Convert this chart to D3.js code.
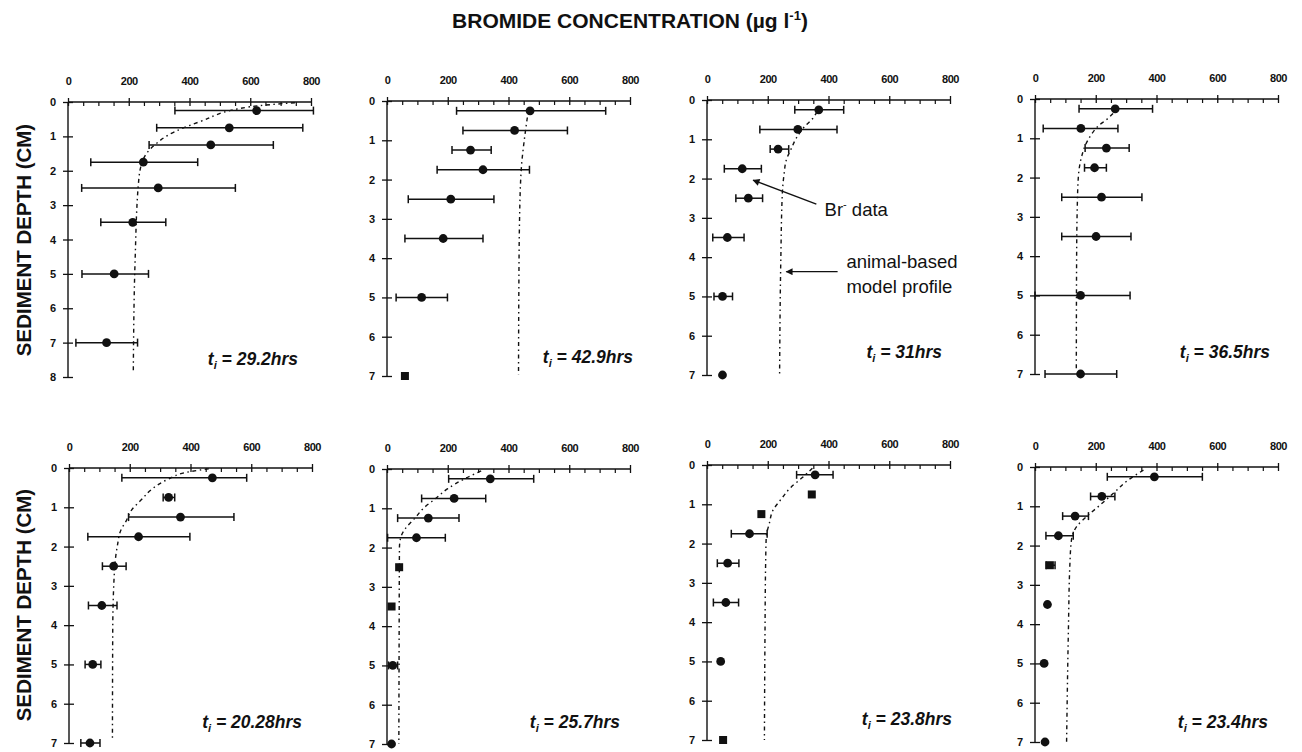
<!DOCTYPE html>
<html><head><meta charset="utf-8">
<script src="https://cdn.jsdelivr.net/npm/d3@7"></script>
<style>
html,body{margin:0;padding:0;background:#fff;}
svg{display:block;font-family:"Liberation Sans",Arial,Helvetica,sans-serif;}
</style></head>
<body><svg id="c" width="1302" height="752"></svg>
<script>
// ---------------- DATA ----------------
const depths = [0.25, 0.75, 1.25, 1.75, 2.5, 3.5, 5, 7];
const xTicks = [0, 200, 400, 600, 800];
const xMinorTicks = [50, 100, 150, 250, 300, 350, 450, 500, 550, 650, 700, 750];
const yMaxByPanel = [8, 7, 7, 7, 7, 7, 7, 7];
const incubationTimes = ["29.2", "42.9", "31", "36.5", "20.28", "25.7", "23.8", "23.4"];

const conc1 = [621, 531, 470, 248, 297, 213, 152, 127];
const lo1   = [352, 292, 267, 75, 45, 108, 46, 26];
const hi1   = [808, 773, 676, 427, 551, 322, 265, 229];
const conc2 = [471, 420, 275, 316, 210, 185, 114, 59];
const lo2   = [229, 250, 214, 165, 70, 59, 30, null];
const hi2   = [720, 594, 343, 469, 352, 316, 199, null];
const conc3 = [368, 299, 234, 116, 136, 67, 51, 51];
const lo3   = [289, 174, 208, 57, 95, 19, 23, null];
const hi3   = [450, 428, 269, 179, 183, 122, 84, null];
const conc4 = [264, 151, 235, 196, 219, 201, 150, 150];
const lo4   = [145, 27, 165, 163, 88, 88, 0, 33];
const hi4   = [387, 273, 310, 235, 352, 316, 313, 269];
const conc5 = [472, 328, 367, 229, 147, 108, 78, 69];
const lo5   = [174, 310, 196, 62, 110, 64, 53, 39];
const hi5   = [585, 348, 543, 398, 188, 158, 105, 102];
const conc6 = [340, 221, 136, 97, 40, 15, 19, 15];
const lo6   = [203, 114, 35, 2, null, null, 5, null];
const hi6   = [483, 325, 237, 192, null, null, 35, null];
const conc7 = [356, 345, 179, 140, 68, 62, 45, 53];
const lo7   = [295, null, null, 80, 34, 21, null, null];
const hi7   = [415, null, null, 198, 105, 104, null, null];
const conc8 = [393, 220, 132, 77, 49, 41, 30, 33];
const lo8   = [238, 183, 91, 36, 36, null, null, null];
const hi8   = [551, 263, 176, 126, 66, null, null, null];

// points drawn as squares (index into depths)
const squarePoints = [[], [7], [], [], [], [4, 5], [1, 2, 7], [4]];

// animal-based model profiles: [depth, concentration]
const model1 = [[0.02,747],[0.14,599],[0.57,435],[0.96,330],[1.2,292],[1.49,259],[1.78,243],[2.36,232],[4.59,221],[7.84,215]];
const model2 = [[0.42,462],[0.53,460],[0.99,452],[1.74,442],[3.18,436],[4.88,434],[6.97,433]];
const model3 = [[0.3,362],[0.47,348],[0.68,321],[0.97,294],[1.23,278],[1.53,261],[1.87,254],[2.38,248],[4.07,243],[7.0,239]];
const model4 = [[0.37,257],[0.52,236],[0.69,208],[0.9,186],[1.19,165],[1.45,154],[1.95,143],[2.8,139],[4.07,137],[6.94,136]];
const model5 = [[0.02,460],[0.09,400],[0.3,323],[0.55,271],[0.81,238],[1.06,207],[1.35,188],[1.56,172],[1.99,159],[2.58,150],[4.11,144],[6.94,143]];
const model6 = [[0.05,310],[0.25,255],[0.5,200],[0.75,160],[1.0,120],[1.25,92],[1.5,62],[1.75,45],[2.0,41],[4.1,40],[7.0,39]];
const model7 = [[0.08,347],[0.32,314],[0.57,276],[0.87,244],[1.17,216],[1.46,206],[1.84,195],[2.52,193],[4.21,191],[7.0,189]];
const model8 = [[0.08,357],[0.33,307],[0.67,258],[0.97,214],[1.22,176],[1.52,137],[1.86,120],[2.45,115],[4.14,110],[7.0,104]];

const concs = [conc1, conc2, conc3, conc4, conc5, conc6, conc7, conc8];
const lows  = [lo1, lo2, lo3, lo4, lo5, lo6, lo7, lo8];
const highs = [hi1, hi2, hi3, hi4, hi5, hi6, hi7, hi8];
const models = [model1, model2, model3, model4, model5, model6, model7, model8];

// ---------------- LAYOUT ----------------
const panelOrigins = [[68,102],[387,101],[707,100],[1035,99],[69,468],[387,469],[707,465],[1035,467]];
const panelW = 243, panelH = 275;
const labelEnd = [230, 246, 235, 235, 233, 233, 245, 233];
const labelBaseline = [263, 262, 258, 259, 260, 259, 260, 261];

const svg = d3.select("#c");
const ink = "#111";

svg.append("text").attr("x", 630).attr("y", 28).attr("text-anchor", "middle")
  .attr("font-size", 21).attr("font-weight", "bold").attr("fill", ink)
  .text("BROMIDE CONCENTRATION (µg l")
  .append("tspan").attr("font-size", 13).attr("dy", -8).text("-1")
  .select(function(){ return this.parentNode; })
  .append("tspan").attr("dy", 8).attr("font-size", 21).text(")");

[[240],[605]].forEach(([cy]) => {
  svg.append("text").attr("transform", `translate(31,${cy}) rotate(-90)`)
    .attr("text-anchor", "middle").attr("font-size", 20.5).attr("font-weight", "bold")
    .attr("fill", ink).text("SEDIMENT DEPTH (CM)");
});

const line = d3.line().curve(d3.curveMonotoneY);

concs.forEach((conc, p) => {
  const [ox, oy] = panelOrigins[p];
  const yMax = yMaxByPanel[p];
  const x = d3.scaleLinear().domain([0, 800]).range([0, panelW]);
  const y = d3.scaleLinear().domain([0, yMax]).range([0, panelH]);
  const g = svg.append("g").attr("transform", `translate(${ox},${oy})`);

  // x axis (top)
  const xa = g.append("g").call(d3.axisTop(x).tickValues(xTicks).tickSize(4).tickPadding(13));
  xa.select(".domain").attr("stroke", ink).attr("stroke-width", 1.4).attr("d", `M0,0H${panelW}`);
  xa.selectAll(".tick line").attr("y1", -4).attr("y2", 4).attr("stroke", ink).attr("stroke-width", 1.3);
  xa.selectAll(".tick text").attr("font-size", 11).attr("font-weight", "bold")
    .attr("font-family", "'Liberation Sans',Arial,sans-serif").attr("fill", ink).attr("letter-spacing", -0.4);
  const xm = g.append("g").call(d3.axisTop(x).tickValues(xMinorTicks).tickSize(0).tickFormat(""));
  xm.select(".domain").remove();
  xm.selectAll(".tick line").attr("y1", 0).attr("y2", 4).attr("stroke", ink).attr("stroke-width", 1.2);

  // y axis (left)
  const ya = g.append("g").call(d3.axisLeft(y).tickValues(d3.range(0, yMax + 1)).tickSize(4).tickPadding(8).tickFormat(d3.format("d")));
  ya.select(".domain").attr("stroke", ink).attr("stroke-width", 1.4).attr("d", `M0,0V${panelH}`);
  ya.selectAll(".tick line").attr("x1", -5).attr("x2", 5).attr("stroke", ink).attr("stroke-width", 1.3);
  ya.selectAll(".tick text").attr("font-size", 11).attr("font-weight", "bold")
    .attr("font-family", "'Liberation Sans',Arial,sans-serif").attr("fill", ink);

  // model profile
  g.append("path").attr("d", line(models[p].map(d => [x(d[1]), y(d[0])])))
    .attr("fill", "none").attr("stroke", ink).attr("stroke-width", 1.4)
    .attr("stroke-dasharray", "4,3.5,1.5,3.5");

  // error bars
  const pts = depths.map((d, i) => ({d, c: conc[i], lo: lows[p][i], hi: highs[p][i], sq: squarePoints[p].includes(i)}));
  const eb = g.append("g").attr("stroke", ink).attr("stroke-width", 1.5);
  pts.filter(q => q.lo != null).forEach(q => {
    eb.append("line").attr("x1", x(q.lo)).attr("x2", x(q.hi)).attr("y1", y(q.d)).attr("y2", y(q.d));
    eb.append("line").attr("x1", x(q.lo)).attr("x2", x(q.lo)).attr("y1", y(q.d) - 4).attr("y2", y(q.d) + 4);
    eb.append("line").attr("x1", x(q.hi)).attr("x2", x(q.hi)).attr("y1", y(q.d) - 4).attr("y2", y(q.d) + 4);
  });
  // markers
  g.selectAll("circle.pt").data(pts.filter(q => !q.sq)).join("circle").attr("class", "pt")
    .attr("cx", q => x(q.c)).attr("cy", q => y(q.d)).attr("r", 4.4).attr("fill", ink);
  g.selectAll("rect.pt").data(pts.filter(q => q.sq)).join("rect").attr("class", "pt")
    .attr("x", q => x(q.c) - 4).attr("y", q => y(q.d) - 4).attr("width", 8).attr("height", 8).attr("fill", ink);

  // label t_i
  const t = g.append("text").attr("x", labelEnd[p]).attr("y", labelBaseline[p]).attr("text-anchor", "end")
    .attr("font-size", 17.5).attr("font-weight", "bold").attr("font-style", "italic").attr("fill", ink);
  t.append("tspan").text("t");
  t.append("tspan").attr("font-size", 11).attr("dy", 4).text("i");
  t.append("tspan").attr("dy", -4).text(" = " + incubationTimes[p] + "hrs");

  // annotations in panel 3
  if (p === 2) {
    const defs = svg.append("defs");
    defs.append("marker").attr("id", "ah").attr("viewBox", "0 0 10 10").attr("refX", 9).attr("refY", 5)
      .attr("markerWidth", 9).attr("markerHeight", 7).attr("orient", "auto").attr("markerUnits", "userSpaceOnUse")
      .append("path").attr("d", "M0,0L10,5L0,10z").attr("fill", ink);
    g.append("line").attr("x1", x(360)).attr("y1", y(2.65)).attr("x2", x(152)).attr("y2", y(2.04))
      .attr("stroke", ink).attr("stroke-width", 1.4).attr("marker-end", "url(#ah)");
    const bt = g.append("text").attr("x", x(387)).attr("y", y(2.95)).attr("font-size", 18.5).attr("fill", ink);
    bt.append("tspan").text("Br");
    bt.append("tspan").attr("font-size", 11).attr("dy", -8).text("-");
    bt.append("tspan").attr("dy", 8).text(" data");
    g.append("line").attr("x1", x(430)).attr("y1", y(4.37)).attr("x2", x(261)).attr("y2", y(4.37))
      .attr("stroke", ink).attr("stroke-width", 1.3).attr("marker-end", "url(#ah)");
    g.append("text").attr("x", x(459)).attr("y", y(4.28)).attr("font-size", 18.5).attr("fill", ink).text("animal-based");
    g.append("text").attr("x", x(459)).attr("y", y(4.9)).attr("font-size", 18.5).attr("fill", ink).text("model profile");
  }
});
</script></body></html>
